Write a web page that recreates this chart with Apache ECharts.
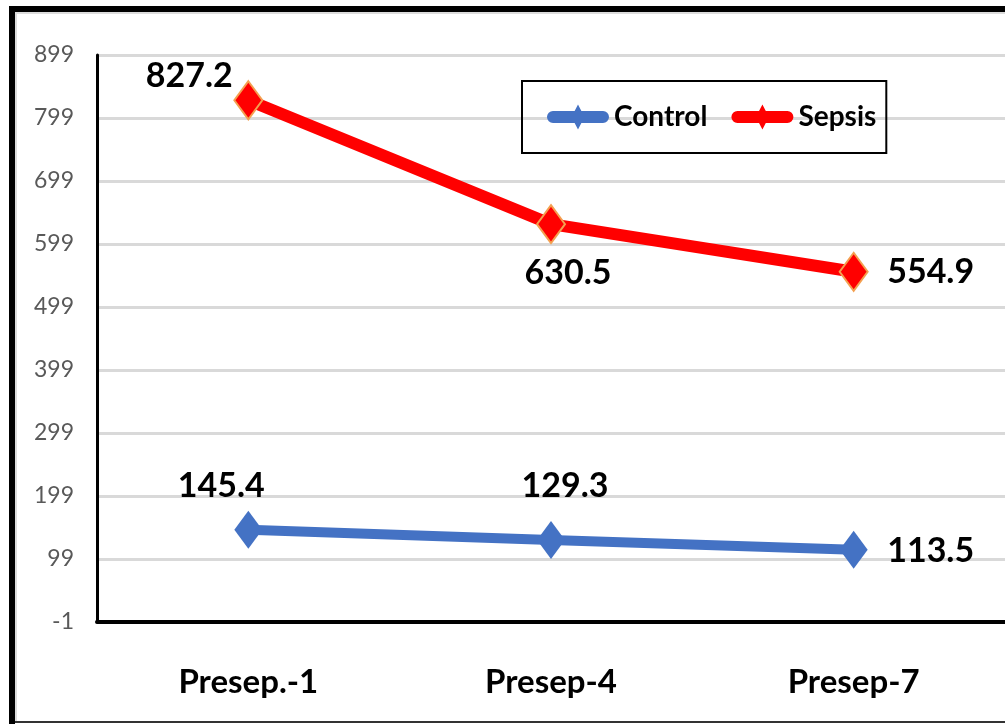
<!DOCTYPE html>
<html>
<head>
<meta charset="utf-8">
<script src="https://cdn.jsdelivr.net/npm/echarts@6/dist/echarts.min.js"></script>
<style>
  html, body { margin: 0; padding: 0; background: #fff; }
  #chart { width: 1005px; height: 724px; }
</style>
</head>
<body>
<div id="chart"></div>
<script>
// Presepsin levels by sampling day
const categories = ['Presep.-1', 'Presep-4', 'Presep-7'];
const controlValues = [145.4, 129.3, 113.5];
const sepsisValues = [827.2, 630.5, 554.9];
const yTicks = [-1, 99, 199, 299, 399, 499, 599, 699, 799, 899];

const FONT = 'Lato, "Open Sans", "DejaVu Sans Condensed", sans-serif';

// where each value label sits relative to its marker (px)
const controlLabelOffsets = [[-27, -44], [14, -54], [77, 1]];
const sepsisLabelOffsets = [[-59, -24], [17, 49], [77, 0]];

// legend key: thick stroke with a narrow diamond in the middle
const LEGEND_ICON = 'path://M6 6.5 L56 6.5 A6 6 0 0 1 56 18.5 L6 18.5 A6 6 0 0 1 6 6.5 Z M31 0 L37.5 12.5 L31 25 L24.5 12.5 Z';

function withLabels(values, offsets) {
  return values.map((v, i) => ({
    value: v,
    label: { position: 'inside', offset: offsets[i] }
  }));
}

const valueLabel = {
  show: true,
  fontFamily: FONT,
  fontWeight: 'bold',
  fontSize: 34,
  color: '#000',
  align: 'center',
  verticalAlign: 'middle',
  formatter: p => p.value.toFixed(1)
};

const chart = echarts.init(document.getElementById('chart'), null, { renderer: 'canvas' });

chart.setOption({
  backgroundColor: '#fff',
  animation: false,
  grid: { left: 97, top: 55, width: 915, bottom: 102, containLabel: false },
  legend: {
    left: 522,
    top: 81,
    orient: 'horizontal',
    data: [
      { name: 'Control', icon: LEGEND_ICON },
      { name: 'Sepsis', icon: LEGEND_ICON, itemStyle: { borderWidth: 0 } }
    ],
    borderColor: '#000',
    borderWidth: 2,
    padding: [20, 10, 20, 25],
    itemWidth: 62,
    itemHeight: 25,
    itemGap: 24,
    textStyle: { fontFamily: FONT, fontWeight: 'bold', fontSize: 28, color: '#000', lineHeight: 32 }
  },
  xAxis: {
    type: 'category',
    data: categories,
    boundaryGap: true,
    axisLine: { show: true, lineStyle: { color: '#000', width: 4 } },
    axisTick: { show: false },
    splitLine: { show: false },
    axisLabel: { fontFamily: FONT, fontWeight: 'bold', fontSize: 33, color: '#000', margin: 44 }
  },
  yAxis: {
    type: 'value',
    min: -1,
    max: 899,
    axisLine: { show: true, lineStyle: { color: '#000', width: 3 } },
    axisTick: { show: false, customValues: yTicks },
    axisLabel: { customValues: yTicks, fontFamily: FONT, fontSize: 23, color: '#595959', margin: 23 },
    splitLine: { show: true, lineStyle: { color: '#d9d9d9', width: 3 } }
  },
  series: [
    {
      name: 'Control',
      type: 'line',
      data: withLabels(controlValues, controlLabelOffsets),
      symbol: 'diamond',
      symbolSize: [28, 38],
      lineStyle: { color: '#4472C4', width: 10 },
      itemStyle: { color: '#4472C4' },
      label: valueLabel,
      z: 3
    },
    {
      name: 'Sepsis',
      type: 'line',
      data: withLabels(sepsisValues, sepsisLabelOffsets),
      symbol: 'diamond',
      symbolSize: [28, 38],
      lineStyle: { color: '#FF0000', width: 12 },
      itemStyle: { color: '#FF0000', borderColor: '#F4A050', borderWidth: 2 },
      label: valueLabel,
      z: 3
    }
  ],
  graphic: [
    // outer frame: heavy top and left edges, thin bottom edge
    { type: 'rect', shape: { x: 15, y: 12, width: 990, height: 2 }, style: { fill: '#dcdcdc' }, z: 10 },
    { type: 'rect', shape: { x: 15, y: 12, width: 2, height: 710 }, style: { fill: '#dcdcdc' }, z: 10 },
    { type: 'rect', shape: { x: 9, y: 6, width: 996, height: 6 }, style: { fill: '#000' }, z: 11 },
    { type: 'rect', shape: { x: 9, y: 6, width: 6, height: 718 }, style: { fill: '#000' }, z: 11 },
    { type: 'rect', shape: { x: 15, y: 721, width: 990, height: 2 }, style: { fill: '#333' }, z: 11 }
  ]
});
</script>
</body>
</html>
